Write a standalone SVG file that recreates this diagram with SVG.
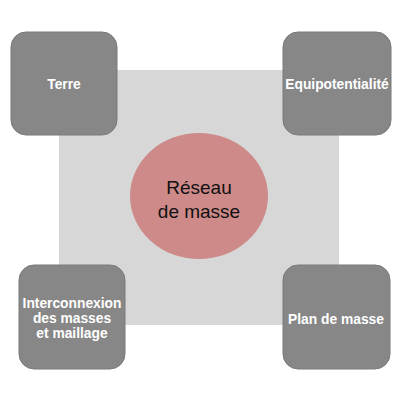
<svg xmlns="http://www.w3.org/2000/svg" width="400" height="400" viewBox="0 0 400 400">
<style>
.box{fill:#878787;stroke:#7a7a7a;stroke-width:1}
.lbl{font-family:"Liberation Sans",Arial,sans-serif;font-weight:bold;font-size:13.8px;fill:#ffffff;text-anchor:middle}
.ctr{font-family:"Liberation Sans",Arial,sans-serif;font-size:19px;fill:#111111;text-anchor:middle}
</style>
<rect width="400" height="400" fill="#ffffff"/>
<rect x="59" y="70" width="280" height="255" fill="#d7d7d7"/>
<g id="connectors"></g>
<g id="center">
<ellipse cx="199" cy="196" rx="69" ry="63" fill="#cd8a89"/>
<text class="ctr" x="199" y="194">Réseau</text>
<text class="ctr" x="199" y="218">de masse</text>
</g>
<g id="terre">
<rect class="box" x="11" y="32" width="106" height="103" rx="15"/>
<text class="lbl" x="64" y="89">Terre</text>
</g>
<g id="equipotentialite">
<rect class="box" x="283" y="32" width="108" height="103" rx="15"/>
<text class="lbl" x="337" y="89">Equipotentialité</text>
</g>
<g id="interconnexion">
<rect class="box" x="19" y="265" width="106" height="104" rx="15"/>
<text class="lbl" x="72" y="308">Interconnexion</text>
<text class="lbl" x="72" y="323">des masses</text>
<text class="lbl" x="72" y="338">et maillage</text>
</g>
<g id="plan">
<rect class="box" x="283" y="265" width="107" height="104" rx="15"/>
<text class="lbl" x="336" y="324">Plan de masse</text>
</g>
</svg>
